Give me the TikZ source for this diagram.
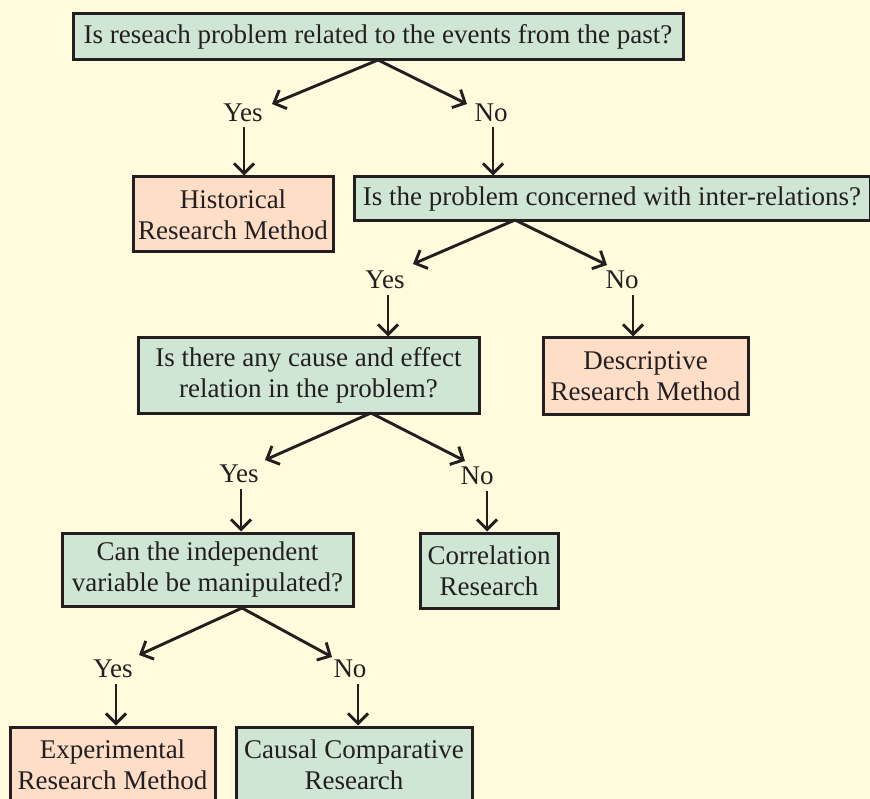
\documentclass[tikz,border=0pt]{standalone}
\usepackage{fontspec}
\setmainfont{Liberation Serif}
\usetikzlibrary{arrows.meta}
\definecolor{bgyellow}{RGB}{255,251,220}
\definecolor{qgreen}{RGB}{208,230,212}
\definecolor{apeach}{RGB}{255,222,200}
\definecolor{inkgray}{RGB}{35,31,32}

\begin{document}
\begin{tikzpicture}[x=1pt, y=-1pt,
box/.style={draw=inkgray, line width=3pt, align=center, inner sep=0pt,
  font=\fontsize{27}{31}\selectfont, text=inkgray},
quest/.style={box, fill=qgreen},
answer/.style={box, fill=apeach},
choice/.style={font=\fontsize{27}{31}\selectfont, text=inkgray, inner sep=0pt},
arr/.style={draw=inkgray, line width=2.9pt, -{Straight Barb[length=10pt, width=20pt, line width=2.9pt]}}]
\fill[bgyellow] (0,0) rectangle (870,799);
\useasboundingbox (0,0) rectangle (870,799);

% level 1
\node[quest, minimum width=610pt, minimum height=46pt] (past) at (378,37)
  {Is reseach problem related to the events from the past?};
\node[choice] (yes1) at (243,113) {Yes};
\node[choice] (no1) at (491,113) {No};
\node[answer, minimum width=200pt, minimum height=75pt] (hist) at (233,214.5)
  {Historical\\Research Method};
\node[quest, minimum width=516pt, minimum height=44pt] (inter) at (612,199)
  {Is the problem concerned with inter-relations?};

% level 2
\node[choice] (yes2) at (385,280) {Yes};
\node[choice] (no2) at (622,280) {No};
\node[quest, minimum width=341pt, minimum height=75pt] (cause) at (308.5,375.5)
  {Is there any cause and effect\\relation in the problem?};
\node[answer, minimum width=205pt, minimum height=76pt] (desc) at (645.5,376)
  {Descriptive\\Research Method};

% level 3
\node[choice] (yes3) at (239,474) {Yes};
\node[choice] (no3) at (477,476) {No};
\node[quest, minimum width=291pt, minimum height=73pt] (manip) at (207.5,569.5)
  {Can the independent\\variable be manipulated?};
\node[quest, minimum width=138pt, minimum height=75pt] (corr) at (489,570.5)
  {Correlation\\Research};

% level 4
\node[choice] (yes4) at (113,669) {Yes};
\node[choice] (no4) at (350,669) {No};
\node[answer, minimum width=205pt, minimum height=75pt] (expm) at (112.5,764.5)
  {Experimental\\Research Method};
\node[quest, minimum width=236pt, minimum height=75pt] (causal) at (354,764.5)
  {Causal Comparative\\Research};

% branch points
\coordinate (s1) at (378,60);
\coordinate (y1) at (272,104);
\coordinate (n1) at (467,104);
\coordinate (s2) at (515,220);
\coordinate (y2) at (413,264);
\coordinate (n2) at (607,265);
\coordinate (s3) at (371,413);
\coordinate (y3) at (265,460);
\coordinate (n3) at (465,461);
\coordinate (s4) at (242,608);
\coordinate (y4) at (139,655);
\coordinate (n4) at (332,657);

\draw[arr] (s1) -- (y1);
\draw[arr] (s1) -- (n1);
\draw[arr] (s2) -- (y2);
\draw[arr] (s2) -- (n2);
\draw[arr] (s3) -- (y3);
\draw[arr] (s3) -- (n3);
\draw[arr] (s4) -- (y4);
\draw[arr] (s4) -- (n4);

% down arrows
\draw[arr] ([xshift=1pt, yshift=-5pt]yes1.south) -- ([xshift=1pt]yes1.south |- hist.north);
\draw[arr] ([xshift=2pt, yshift=-5pt]no1.south) -- ([xshift=2pt]no1.south |- inter.north);
\draw[arr] ([xshift=3pt, yshift=-6pt]yes2.south) -- ([xshift=3pt]yes2.south |- cause.north);
\draw[arr] ([xshift=11pt, yshift=-6pt]no2.south) -- ([xshift=11pt]no2.south |- desc.north);
\draw[arr] ([xshift=2pt, yshift=-6pt]yes3.south) -- ([xshift=2pt]yes3.south |- manip.north);
\draw[arr] ([xshift=10pt, yshift=-6pt]no3.south) -- ([xshift=10pt]no3.south |- corr.north);
\draw[arr] ([xshift=3pt, yshift=-6pt]yes4.south) -- ([xshift=3pt]yes4.south |- expm.north);
\draw[arr] ([xshift=8pt, yshift=-6pt]no4.south) -- ([xshift=8pt]no4.south |- causal.north);
\end{tikzpicture}
\end{document}
